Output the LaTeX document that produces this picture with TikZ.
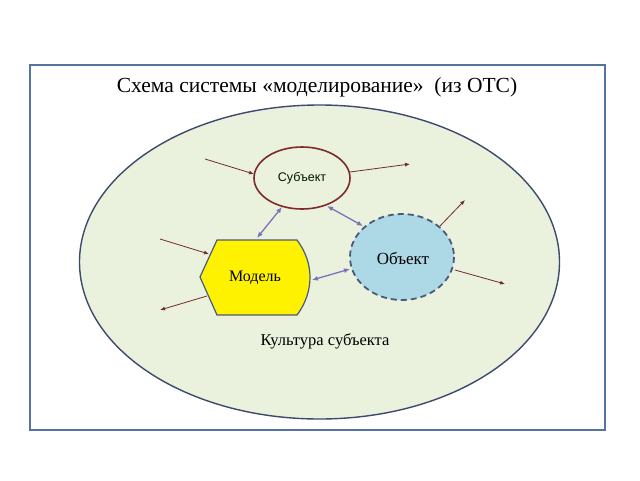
\documentclass[tikz,border=0pt]{standalone}
\usepackage{fontspec}
\setmainfont{Liberation Serif}
\newfontfamily\sansf{Liberation Sans}
\usetikzlibrary{arrows.meta}
\definecolor{framec}{HTML}{5573A3}
\definecolor{bigc}{HTML}{3C4A6E}
\definecolor{bgfill}{HTML}{EAF1DC}
\definecolor{subjc}{HTML}{7F2A2A}
\definecolor{arrc}{HTML}{6E2C30}
\definecolor{dblc}{HTML}{7D72B8}
\definecolor{objfill}{HTML}{ADD8E6}
\definecolor{objc}{HTML}{4A5A7A}
\tikzset{
  inarrow/.style={draw=arrc, line width=0.8pt, -{Latex[length=5pt,width=4pt]}},
  dblarrow/.style={draw=dblc, line width=1.3pt, {Latex[length=6pt,width=5pt]}-{Latex[length=6pt,width=5pt]}},
  lbl/.style={font=\fontsize{16}{18}\selectfont, text=black}
}
\begin{document}
\begin{tikzpicture}[x=1pt,y=-1pt]
\useasboundingbox (0,0) rectangle (640,480);
\fill[white] (0,0) rectangle (640,480);
\draw[framec, line width=1.6pt] (30,65) rectangle (605,430);
\node[font=\fontsize{21.5}{24}\selectfont] (title) at (317,87) {Схема системы «моделирование»\ \ (из ОТС)};
\draw[bigc, line width=1.4pt, fill=bgfill] (319.5,262) ellipse [x radius=240, y radius=157];
% subject
\draw[subjc, line width=1.6pt, fill=bgfill] (302,178) ellipse [x radius=48, y radius=31];
\node[font=\sansf\fontsize{12.5}{14}\selectfont, text=black!80!green!40!black] (subj) at (302,178) {Субъект};
\coordinate (sW) at (254,174);
\coordinate (sE) at (350,172);
\coordinate (sSW) at (282,207);
\coordinate (sSE) at (327,206);
% model
\draw[objc, line width=1.2pt, fill=yellow] (200,277) -- (217,240) -- (297,240)
  .. controls (306,252) and (310,265) .. (310,277)
  .. controls (310,290) and (306,303) .. (297,315) -- (217,315) -- cycle;
\node[lbl] (model) at (255,278) {Модель};
\coordinate (mN) at (257,238);
\coordinate (mW) at (209,254);
\coordinate (mSW) at (207,296);
\coordinate (mE) at (312,280);
% object
\draw[objc, line width=1.8pt, dash pattern=on 6pt off 4pt, fill=objfill] (402,257) ellipse [x radius=52, y radius=43];
\node[lbl, font=\fontsize{17}{18}\selectfont] (obj) at (403,258) {Объект};
\coordinate (oNW) at (363,226);
\coordinate (oW) at (350,269);
\coordinate (oNE) at (440,226);
\coordinate (oE) at (455,270);
% free ends
\coordinate (a1) at (205,159);
\coordinate (a2) at (410,164);
\coordinate (a3) at (160,239);
\coordinate (a4) at (160,310);
\coordinate (a5) at (465,200);
\coordinate (a6) at (505,284);
\draw[inarrow] (a1) -- (sW);
\draw[inarrow] (sE) -- (a2);
\draw[inarrow] (a3) -- (mW);
\draw[inarrow] (mSW) -- (a4);
\draw[inarrow] (oNE) -- (a5);
\draw[inarrow] (oE) -- (a6);
\draw[dblarrow] (sSW) -- (mN);
\draw[dblarrow] (sSE) -- (oNW);
\draw[dblarrow] (mE) -- (oW);
\node[lbl, font=\fontsize{16.5}{18}\selectfont] (cult) at (325,341) {Культура субъекта};
\end{tikzpicture}
\end{document}
